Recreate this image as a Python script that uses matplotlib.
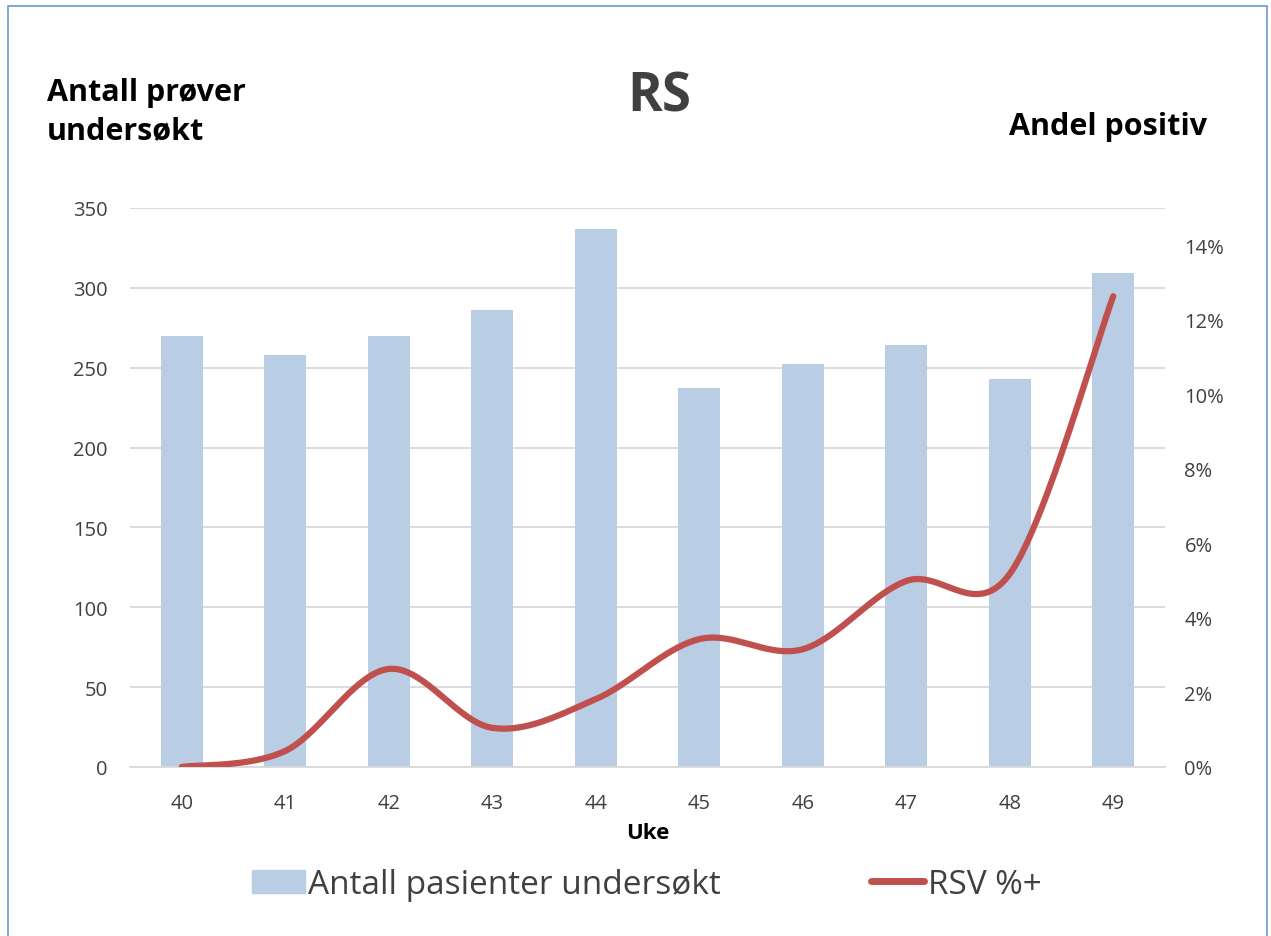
import numpy as np
import matplotlib.pyplot as plt
from matplotlib.patches import Rectangle
from matplotlib.ticker import PercentFormatter

plt.rcParams['font.family'] = ['Open Sans', 'DejaVu Sans']

# Data
uker = ['40', '41', '42', '43', '44', '45', '46', '47', '48', '49']
antall = [270, 258, 270, 286, 337, 237, 252, 264, 243, 309]
rsv_pct = [0.0, 0.43, 2.63, 1.05, 1.82, 3.43, 3.16, 4.99, 5.18, 12.63]

bar_color = '#b9cde5'
line_color = '#c0504d'
text_gray = '#404040'
grid_gray = '#d9d9d9'


def smooth(xs, ys, n=40):
    # Excel-like smoothed line (Catmull-Rom as cubic Bezier)
    p = np.column_stack([xs, ys]).astype(float)
    out = []
    for i in range(len(p) - 1):
        p0 = p[max(i - 1, 0)]
        p1 = p[i]
        p2 = p[i + 1]
        p3 = p[min(i + 2, len(p) - 1)]
        c1 = p1 + (p2 - p0) / 6.0
        c2 = p2 - (p3 - p1) / 6.0
        t = np.linspace(0, 1, n)[:, None]
        seg = ((1 - t) ** 3) * p1 + 3 * ((1 - t) ** 2) * t * c1 + 3 * (1 - t) * t ** 2 * c2 + t ** 3 * p2
        out.append(seg if i == 0 else seg[1:])
    out = np.vstack(out)
    return out[:, 0], out[:, 1]


fig = plt.figure(figsize=(12.71, 9.37), dpi=100)
ax = fig.add_axes([0.1023, 0.1804, 0.8143, 0.5966])
x = np.arange(len(uker))

ax.set_axisbelow(True)
ax.yaxis.grid(True, color=grid_gray, linewidth=1.3)
ax.bar(x, antall, width=0.41, color=bar_color, zorder=2)
ax.set_ylim(0, 350)
ax.set_yticks(range(0, 351, 50))
ax.set_xlim(-0.5, len(uker) - 0.5)
ax.set_xticks(x)
ax.set_xticklabels(uker)
for s in ['top', 'left', 'right']:
    ax.spines[s].set_visible(False)
ax.spines['bottom'].set_color(grid_gray)
ax.spines['bottom'].set_linewidth(1.3)
ax.tick_params(axis='both', length=0, labelsize=14.5, colors=text_gray)
ax.tick_params(axis='x', pad=19)
ax.tick_params(axis='y', pad=16)
ax.set_xlabel('Uke', fontsize=16, fontweight='bold', color='black', labelpad=6)

ax2 = ax.twinx()
sx, sy = smooth(x, rsv_pct)
ax2.plot(sx, sy, color=line_color, linewidth=4.5, solid_capstyle='round', zorder=3)
ax2.set_ylim(0, 15)
ax2.set_yticks(range(0, 15, 2))
ax2.yaxis.set_major_formatter(PercentFormatter(decimals=0))
for s in ['top', 'left', 'right', 'bottom']:
    ax2.spines[s].set_visible(False)
ax2.tick_params(axis='y', length=0, labelsize=14.5, colors=text_gray, pad=14)

# Titles
fig.text(0.519, 0.896, 'RS', fontsize=38, fontweight='bold', color=text_gray,
         ha='center', va='center')
fig.text(0.037, 0.880, 'Antall prøver\nundersøkt', fontsize=22, fontweight='bold',
         color='black', ha='left', va='center', linespacing=1.35)
fig.text(0.950, 0.864, 'Andel positiv', fontsize=22, fontweight='bold',
         color='black', ha='right', va='center')

# Legend
h1 = Rectangle((0, 0), 1, 1, color=bar_color)
h2 = plt.Line2D([0], [0], color=line_color, linewidth=5, solid_capstyle='round')
leg = fig.legend([h1, h2], ['Antall pasienter undersøkt', 'RSV %+'], ncol=2,
                 loc='center', bbox_to_anchor=(0.5087, 0.055), frameon=False,
                 fontsize=24, handlelength=1.6, handletextpad=0.1,
                 columnspacing=4.5, labelcolor=text_gray)

# Outer border
fig.patches.append(Rectangle((0.006, -0.01), 0.991, 1.002, transform=fig.transFigure,
                             fill=False, edgecolor='#7a9fd4', linewidth=1.3))

fig.savefig('out.png', dpi=100)
